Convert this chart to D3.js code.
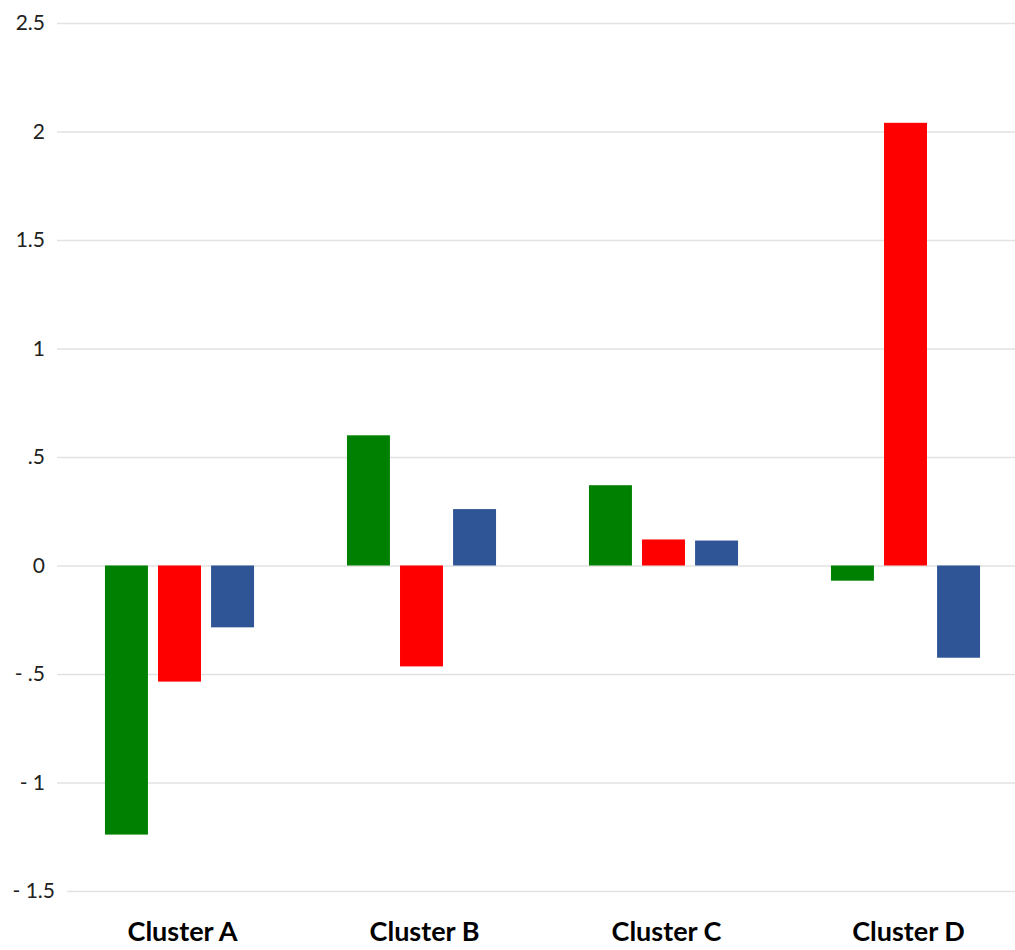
<!DOCTYPE html>
<html>
<head>
<meta charset="utf-8">
<script src="https://cdn.jsdelivr.net/npm/d3@7"></script>
<style>
  body { margin: 0; background: #fff; }
  .canvas { width: 1015px; height: 950px; overflow: hidden; }
</style>
</head>
<body>
<div class="canvas"></div>
<script>
const clusters = ["Cluster A", "Cluster B", "Cluster C", "Cluster D"];
const seriesNames = ["green", "red", "blue"];
const greenValues = [-1.24, 0.60, 0.37, -0.07];
const redValues = [-0.535, -0.465, 0.12, 2.04];
const blueValues = [-0.285, 0.26, 0.115, -0.425];
const tickValues = [-1.5, -1, -0.5, 0, 0.5, 1, 1.5, 2, 2.5];
const colors = ["#008000", "#ff0000", "#2f5597"];

const allValues = [greenValues, redValues, blueValues];

const svg = d3.select(".canvas")
  .append("svg")
  .attr("width", 1015)
  .attr("height", 950);

const y = d3.scaleLinear()
  .domain([-1.5, 2.5])
  .range([891, 23]);

const x0 = d3.scaleBand()
  .domain(clusters)
  .range([58.5, 1026.5])
  .paddingInner(0.384)
  .paddingOuter(0.192);

const x1 = d3.scaleBand()
  .domain(seriesNames)
  .range([0, x0.bandwidth()])
  .paddingInner(0.19);

// tick label format like "- .5", ".5", "1.5"
function fmt(d) {
  if (d === 0) return "0";
  let s = String(Math.abs(d)).replace(/^0\./, ".");
  return d < 0 ? "- " + s : s;
}

// y axis: gridlines + labels
const yAxis = d3.axisLeft(y)
  .tickValues(tickValues)
  .tickFormat(fmt)
  .tickSize(0)
  .tickPadding(12);

const gy = svg.append("g")
  .attr("transform", "translate(57,0)")
  .call(yAxis);

gy.select(".domain").remove();
gy.selectAll("text")
  .attr("fill", "#222")
  .attr("dx", d => d === -1.5 ? 10 : 0)
  .style("font-family", "Lato, 'Open Sans', sans-serif")
  .style("font-size", "21px");

gy.selectAll(".tick")
  .append("line")
  .attr("x1", d => d === -1.5 ? 10 : 0)
  .attr("x2", 1015 - 57)
  .attr("stroke", "#e2e2e2")
  .attr("stroke-width", 1.3);

// bars
const groups = svg.append("g")
  .selectAll("g")
  .data(clusters)
  .join("g")
  .attr("transform", d => `translate(${x0(d)},0)`);

groups.selectAll("rect")
  .data((c, i) => seriesNames.map((s, j) => ({ s: s, v: allValues[j][i], color: colors[j] })))
  .join("rect")
  .attr("x", d => x1(d.s))
  .attr("width", x1.bandwidth())
  .attr("y", d => y(Math.max(0, d.v)))
  .attr("height", d => Math.abs(y(d.v) - y(0)))
  .attr("fill", d => d.color);

// x category labels
const xAxis = d3.axisBottom(x0).tickSize(0).tickPadding(0);
const gx = svg.append("g")
  .attr("transform", "translate(3,0)")
  .call(xAxis);
gx.select(".domain").remove();
gx.selectAll("text")
  .attr("fill", "#000")
  .attr("y", 941)
  .attr("dy", null)
  .style("font-family", "Lato, 'Open Sans', sans-serif")
  .style("font-weight", "bold")
  .style("font-size", "27px");
</script>
</body>
</html>
